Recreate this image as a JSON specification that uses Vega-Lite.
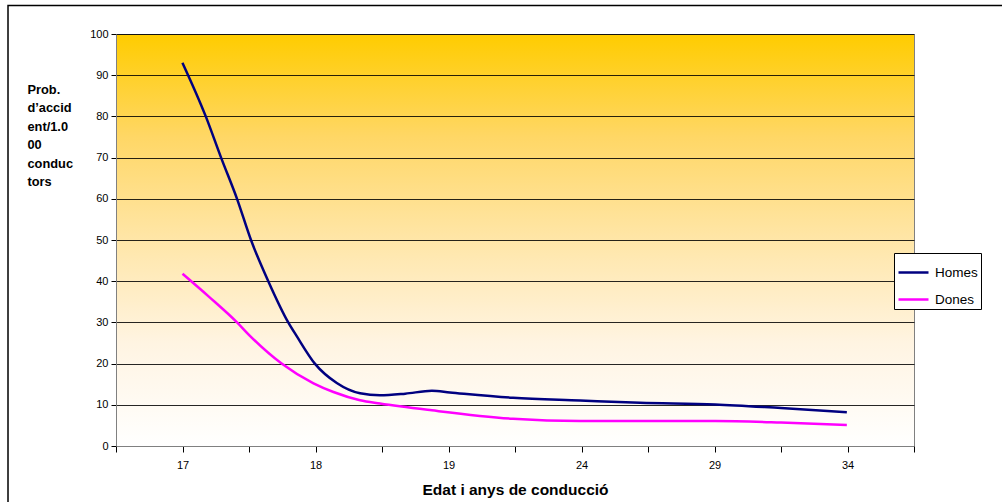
{
  "$schema": "https://vega.github.io/schema/vega-lite/v6.json",
  "width": 798,
  "height": 412,
  "autosize": {"type": "none"},
  "padding": {"left": 116, "top": 34, "right": 88, "bottom": 56},
  "background": "white",
  "config": {
    "font": "Liberation Sans",
    "view": {
      "stroke": "#808080",
      "strokeWidth": 1,
      "fill": {"gradient": "linear", "x1": 0, "y1": 0, "x2": 0, "y2": 1,
        "stops": [
          {"offset": 0, "color": "#FFCC00"},
          {"offset": 0.25, "color": "#FFD766"},
          {"offset": 0.5, "color": "#FFE6A8"},
          {"offset": 0.75, "color": "#FFF4E2"},
          {"offset": 1, "color": "#FFFFFF"}
        ]}
    }
  },
  "layer": [
    {
      "data": {"values": [{"frame": "chart"}]},
      "mark": {"type": "rect", "fill": null, "stroke": "#000000", "strokeWidth": 1.5, "clip": false},
      "encoding": {
        "x": {"datum": -1.624, "type": "quantitative"},
        "x2": {"datum": 16},
        "y": {"datum": 106.9, "type": "quantitative"},
        "y2": {"datum": -30}
      }
    },
    {
      "data": {"values": [
        {"x": 1.0, "value": 93.0, "serie": "Homes"},
        {"x": 1.35, "value": 80, "serie": "Homes"},
        {"x": 1.58, "value": 70, "serie": "Homes"},
        {"x": 1.82, "value": 60, "serie": "Homes"},
        {"x": 2.03, "value": 50, "serie": "Homes"},
        {"x": 2.29, "value": 40, "serie": "Homes"},
        {"x": 2.59, "value": 30, "serie": "Homes"},
        {"x": 2.72, "value": 26.6, "serie": "Homes"},
        {"x": 2.99, "value": 20, "serie": "Homes"},
        {"x": 3.32, "value": 15.3, "serie": "Homes"},
        {"x": 3.67, "value": 12.8, "serie": "Homes"},
        {"x": 3.97, "value": 12.3, "serie": "Homes"},
        {"x": 4.35, "value": 12.7, "serie": "Homes"},
        {"x": 4.75, "value": 13.4, "serie": "Homes"},
        {"x": 5.02, "value": 13.0, "serie": "Homes"},
        {"x": 5.97, "value": 11.7, "serie": "Homes"},
        {"x": 6.98, "value": 11.05, "serie": "Homes"},
        {"x": 7.88, "value": 10.5, "serie": "Homes"},
        {"x": 9.01, "value": 10.1, "serie": "Homes"},
        {"x": 10.0, "value": 9.2, "serie": "Homes"},
        {"x": 10.99, "value": 8.2, "serie": "Homes"},
        {"x": 1.0, "value": 41.8, "serie": "Dones"},
        {"x": 1.4, "value": 36.2, "serie": "Dones"},
        {"x": 1.82, "value": 30, "serie": "Dones"},
        {"x": 2.01, "value": 26.8, "serie": "Dones"},
        {"x": 2.49, "value": 20, "serie": "Dones"},
        {"x": 2.97, "value": 15.2, "serie": "Dones"},
        {"x": 3.27, "value": 13.1, "serie": "Dones"},
        {"x": 3.67, "value": 11.1, "serie": "Dones"},
        {"x": 3.97, "value": 10.3, "serie": "Dones"},
        {"x": 4.75, "value": 8.65, "serie": "Dones"},
        {"x": 5.97, "value": 6.6, "serie": "Dones"},
        {"x": 6.98, "value": 6.05, "serie": "Dones"},
        {"x": 9.01, "value": 6.05, "serie": "Dones"},
        {"x": 10.0, "value": 5.7, "serie": "Dones"},
        {"x": 10.99, "value": 5.1, "serie": "Dones"}
      ]},
      "mark": {"type": "line", "interpolate": "monotone", "strokeWidth": 2.5},
      "encoding": {
        "x": {
          "field": "x", "type": "quantitative",
          "scale": {"domain": [0, 12], "nice": false, "zero": false},
          "axis": {
            "values": [0,1,2,3,4,5,6,7,8,9,10,11,12],
            "labelExpr": "['','17','','18','','19','','24','','29','','34',''][datum.value]",
            "grid": false,
            "domainColor": "#808080",
            "tickColor": "#000000",
            "tickSize": 6,
            "labelFontSize": 11,
            "labelColor": "#000000",
            "labelPadding": 7,
            "labelFlush": false,
            "title": "Edat i anys de conducció",
            "titleFontSize": 15.5,
            "titleFontWeight": "bold",
            "titleColor": "#000000",
            "titlePadding": 12
          }
        },
        "y": {
          "field": "value", "type": "quantitative",
          "scale": {"domain": [0, 100], "nice": false},
          "axis": {
            "values": [0,10,20,30,40,50,60,70,80,90,100],
            "grid": true,
            "gridColor": "#000000",
            "gridOpacity": 0.85,
            "gridWidth": 1,
            "domainColor": "#808080",
            "tickColor": "#000000",
            "tickSize": 5,
            "labelFontSize": 11,
            "labelColor": "#000000",
            "labelPadding": 3,
            "title": ["Prob.", "d’accid", "ent/1.0", "00", "conduc", "tors"],
            "titleAngle": 0,
            "titleAlign": "left",
            "titleBaseline": "alphabetic",
            "titleX": -89,
            "titleY": 59,
            "titleLineHeight": 18.5,
            "titleFontSize": 12.8,
            "titleFontWeight": "bold",
            "titleColor": "#000000"
          }
        },
        "color": {
          "field": "serie", "type": "nominal",
          "scale": {"domain": ["Homes", "Dones"], "range": ["#000080", "#FF00FF"]},
          "legend": {
            "title": null,
            "orient": "none",
            "legendX": 778,
            "legendY": 219,
            "symbolType": "stroke",
            "symbolSize": 900,
            "symbolStrokeWidth": 2.5,
            "labelFontSize": 13.5,
            "labelColor": "#000000",
            "rowPadding": 4,
            "padding": 3,
            "strokeColor": "#000000",
            "fillColor": "#FFFFFF",
            "labelOffset": 5
          }
        }
      }
    }
  ]
}
